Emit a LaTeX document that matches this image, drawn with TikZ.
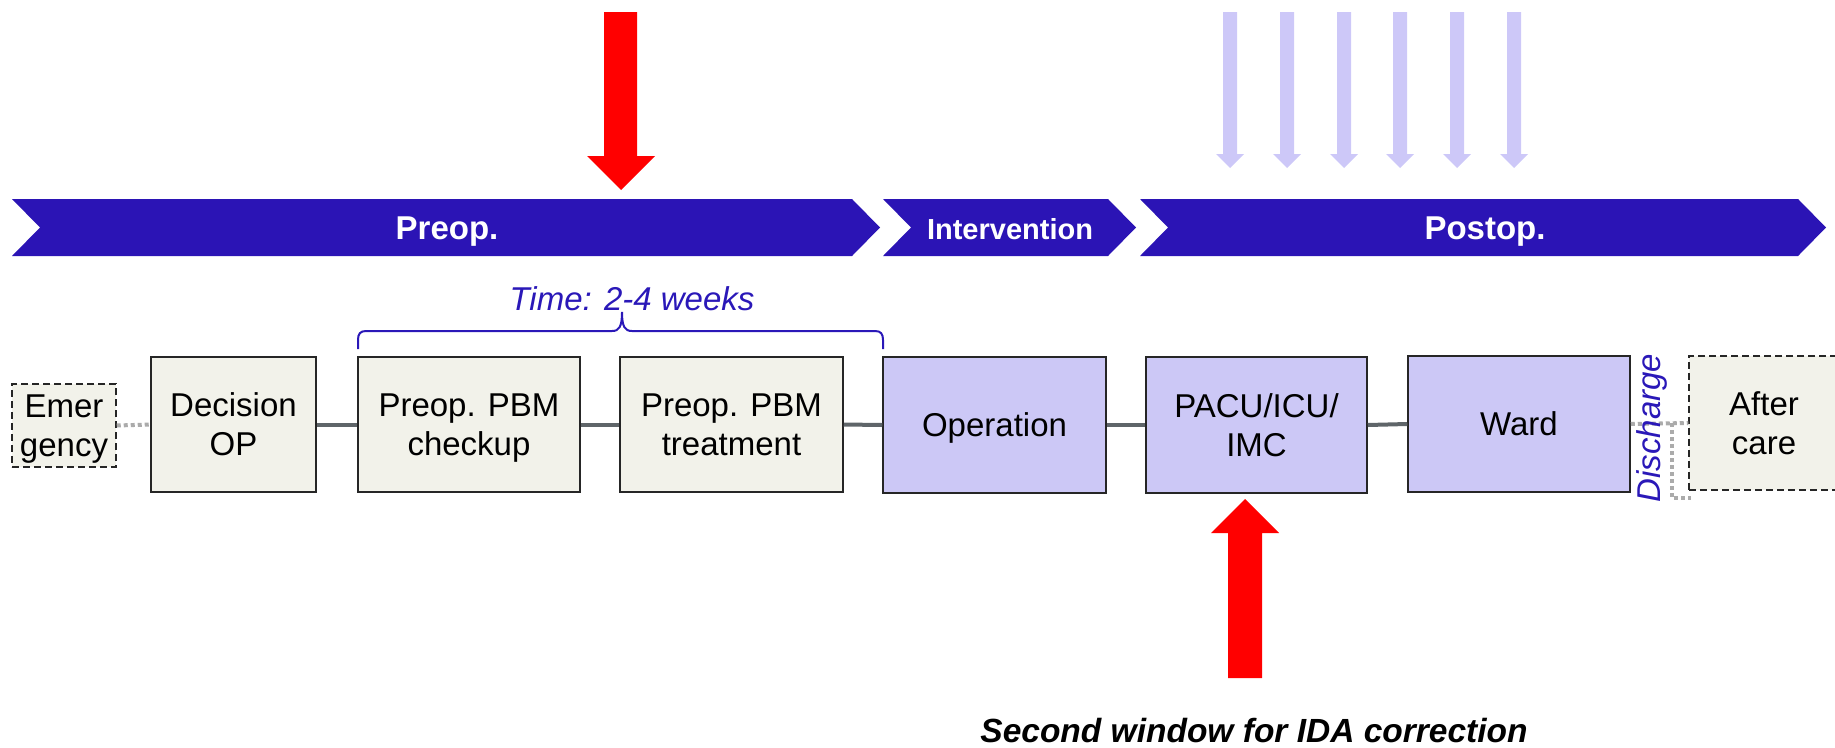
\documentclass[tikz,border=0pt]{standalone}
\usepackage{fontspec}
\setmainfont{Liberation Sans}
\definecolor{chev}{HTML}{2B14B5}
\definecolor{lav}{HTML}{CCC8F6}
\definecolor{lavarrow}{HTML}{CDC8F8}
\definecolor{beige}{HTML}{F2F2EA}
\definecolor{conngray}{HTML}{5F6569}
\definecolor{dotgray}{HTML}{ABABAB}
\definecolor{txtblue}{HTML}{2A18B8}
\definecolor{arrowred}{HTML}{FF0000}
\begin{document}
\begin{tikzpicture}[x=1pt,y=-1pt,
  box/.style={draw=black!85, line width=1.5pt, minimum height=135pt, inner sep=0pt, align=center, text depth=0pt, font=\fontsize{33}{39}\selectfont},
  beigebox/.style={box, fill=beige},
  lavbox/.style={box, fill=lav},
  dashbox/.style={box, fill=beige, dash pattern=on 7pt off 4pt},
  conn/.style={draw=conngray, line width=4pt},
  dotconn/.style={draw=dotgray, line width=4pt, dash pattern=on 4pt off 3pt},
  chevshape/.style={fill=chev, draw=none},
  chevtext/.style={text=white, anchor=base, font=\bfseries\fontsize{33}{39}\selectfont, inner sep=0pt},
  redarrow/.style={fill=arrowred, draw=none},
  lavarr/.style={fill=lavarrow, draw=none},
  bluetext/.style={text=txtblue, font=\itshape\fontsize{33}{39}\selectfont, inner sep=0pt},
  bracestyle/.style={draw=txtblue, line width=2pt}
]
\useasboundingbox (0,0) rectangle (1835,747);

% chevrons
\fill[chevshape] (12,199) -- (852,199) -- (880,227.5) -- (852,256) -- (12,256) -- (40,227.5) -- cycle;
\fill[chevshape] (883,199) -- (1108,199) -- (1136,227.5) -- (1108,256) -- (883,256) -- (911,227.5) -- cycle;
\fill[chevshape] (1140,199) -- (1798,199) -- (1826,227.5) -- (1798,256) -- (1140,256) -- (1168,227.5) -- cycle;
\node[chevtext] (preopL) at (447,239.5) {Preop.};
\node[chevtext, font=\bfseries\fontsize{29}{34}\selectfont] (intL) at (1010,239) {Intervention};
\node[chevtext] (postopL) at (1485,239.5) {Postop.};

% red down arrow
\fill[redarrow] (604,12) -- (637,12) -- (637,156) -- (655,156) -- (621,190) -- (587,156) -- (604,156) -- cycle;
% lavender down arrows
\foreach \cx in {1230,1287,1344,1400,1457,1514}{
  \fill[lavarr] (\cx-7,12) -- (\cx+7,12) -- (\cx+7,154) -- (\cx+14,154) -- (\cx,168) -- (\cx-14,154) -- (\cx-7,154) -- cycle;
}

% boxes
\node[dashbox, minimum width=104pt, minimum height=83pt] (emer) at (64,425.5) {Emer\\gency};
\node[beigebox, minimum width=165pt] (dec) at (233.5,424.5) {Decision\\OP};
\node[beigebox, minimum width=222pt] (chk) at (469,424.5) {Preop. PBM\\checkup};
\node[beigebox, minimum width=223pt] (trt) at (731.5,424.5) {Preop. PBM\\treatment};
\node[lavbox, minimum width=223pt, minimum height=136pt] (op) at (994.5,425) {Operation};
\node[lavbox, minimum width=221pt, minimum height=136pt] (pacu) at (1256.5,425) {PACU/ICU/\\IMC};
\node[lavbox, minimum width=222pt, minimum height=136pt] (ward) at (1519,424) {Ward};
\node[dashbox, minimum width=150pt, minimum height=134pt] (after) at (1764,423) {After\\care};

% connectors
\draw[dotconn] (emer.east) -- (dec.west);
\draw[conn] (dec.east) -- (chk.west);
\draw[conn] (chk.east) -- (trt.west);
\draw[conn] (trt.east) -- (op.west);
\draw[conn] (op.east) -- (pacu.west);
\draw[conn] (pacu.east) -- (ward.west);
\draw[dotconn] (ward.east) -- (after.west);
\coordinate (dtop) at (1672,423);
\coordinate (dbot) at (1672,498);
\coordinate (dend) at (1691,498);
\draw[dotconn] (dtop) -- (dbot) -- (dend);

% discharge label
\node[bluetext, rotate=90] (dis) at (1652,428) {Discharge};

% brace and time label
\draw[bracestyle] (358,349) -- (358,340) .. controls (358,334) and (360,331) .. (366,331) -- (612,331) .. controls (619,331) and (622,327) .. (622,312) .. controls (622,327) and (625,331) .. (632,331) -- (875,331) .. controls (881,331) and (883,334) .. (883,340) -- (883,349);
\node[bluetext, anchor=base] (time) at (632,310) {Time: 2-4 weeks};

% red up arrow
\fill[redarrow] (1228,678) -- (1262,678) -- (1262,533) -- (1279,533) -- (1245,499) -- (1211,533) -- (1228,533) -- cycle;
\node[anchor=base, inner sep=0pt, font=\bfseries\itshape\fontsize{33.5}{40}\selectfont] (second) at (1254,742.5) {Second window for IDA correction};
\end{tikzpicture}
\end{document}
